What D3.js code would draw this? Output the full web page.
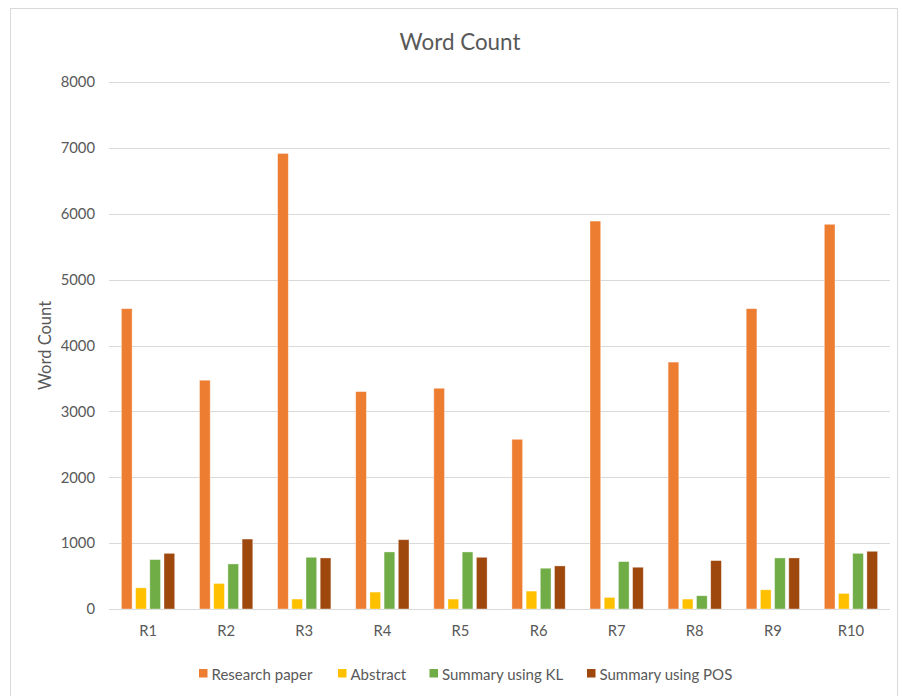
<!DOCTYPE html>
<html>
<head>
<meta charset="utf-8">
<script src="https://cdn.jsdelivr.net/npm/d3@7"></script>
<style>
  html, body { margin: 0; padding: 0; background: #fff; }
  svg text { font-family: Lato, "Open Sans", sans-serif; fill: #595959; }
</style>
</head>
<body>
<svg id="chart" width="902" height="696"></svg>
<script>
// Word counts per document
const categories = ["R1", "R2", "R3", "R4", "R5", "R6", "R7", "R8", "R9", "R10"];
const seriesNames = ["Research paper", "Abstract", "Summary using KL", "Summary using POS"];
const researchPaper = [4559, 3473, 6915, 3300, 3351, 2576, 5889, 3748, 4559, 5840];
const abstractCounts = [322, 388, 151, 257, 151, 272, 176, 151, 292, 237];
const summaryKL = [750, 684, 785, 866, 866, 619, 720, 201, 775, 845];
const summaryPOS = [845, 1062, 775, 1052, 785, 654, 634, 735, 775, 876];
const yTicks = [0, 1000, 2000, 3000, 4000, 5000, 6000, 7000, 8000];
const colors = ["#ED7D31", "#FFC000", "#70AD47", "#9E480E"];

const seriesValues = [researchPaper, abstractCounts, summaryKL, summaryPOS];
const rows = categories.map((c, i) => ({
  cat: c,
  vals: seriesNames.map((s, j) => ({ series: s, idx: j, value: seriesValues[j][i] }))
}));

const svg = d3.select("#chart");
const plot = { left: 109, right: 890, top: 82, bottom: 609 };

// chart frame
svg.append("rect")
  .attr("x", 10.5).attr("y", 8.5).attr("width", 887).attr("height", 700)
  .attr("fill", "#fff").attr("stroke", "#D9D9D9").attr("stroke-width", 1);

const x0 = d3.scaleBand().domain(categories).range([plot.left, plot.right]);
const groupWidth = 53.3;
const x1 = d3.scaleBand().domain(seriesNames).range([0, groupWidth]).paddingInner(0.246);
const y = d3.scaleLinear().domain([0, 8000]).range([plot.bottom, plot.top]);

// horizontal gridlines
svg.append("g").selectAll("line").data(yTicks).join("line")
  .attr("x1", plot.left).attr("x2", plot.right)
  .attr("y1", d => Math.round(y(d)) + 0.5).attr("y2", d => Math.round(y(d)) + 0.5)
  .attr("stroke", "#D9D9D9").attr("stroke-width", 1);

// y axis labels
const yAxis = d3.axisLeft(y).tickValues(yTicks).tickSize(0).tickPadding(0).tickFormat(d3.format("d"));
const gy = svg.append("g").attr("transform", `translate(${plot.left - 14},0)`).call(yAxis);
gy.select(".domain").remove();
gy.selectAll("text").attr("font-size", 14.8).attr("font-family", null).attr("fill", "#595959");

// bars
const offset = (x0.bandwidth() - groupWidth) / 2;
svg.append("g").selectAll("g").data(rows).join("g")
  .attr("transform", d => `translate(${x0(d.cat) + offset},0)`)
  .selectAll("rect").data(d => d.vals).join("rect")
  .attr("x", d => x1(d.series))
  .attr("width", x1.bandwidth())
  .attr("y", d => y(d.value))
  .attr("height", d => y(0) - y(d.value))
  .attr("fill", d => colors[d.idx])
  .attr("stroke", "#fff").attr("stroke-opacity", 0.5).attr("stroke-width", 0.75);

// x axis labels
const xAxis = d3.axisBottom(x0).tickSize(0).tickPadding(0);
const gx = svg.append("g").attr("transform", `translate(0,${plot.bottom + 16})`).call(xAxis);
gx.select(".domain").remove();
gx.selectAll("text").attr("font-size", 14.8).attr("font-family", null).attr("fill", "#595959");

// title
svg.append("text").attr("x", 460).attr("y", 50).attr("text-anchor", "middle")
  .attr("font-size", 22.4).text("Word Count");

// y axis title
svg.append("text")
  .attr("transform", `translate(51,${(plot.top + plot.bottom) / 2}) rotate(-90)`)
  .attr("text-anchor", "middle").attr("font-size", 16.5).text("Word Count");

// legend
const legendX = [199, 338, 429.5, 587];
const legend = svg.append("g").selectAll("g").data(seriesNames).join("g")
  .attr("transform", (d, i) => `translate(${legendX[i]},669)`);
legend.append("rect").attr("width", 8.5).attr("height", 8.5).attr("fill", (d, i) => colors[i]);
legend.append("text").attr("x", 12.5).attr("y", 10.5).attr("font-size", 15).text(d => d);
</script>
</body>
</html>
